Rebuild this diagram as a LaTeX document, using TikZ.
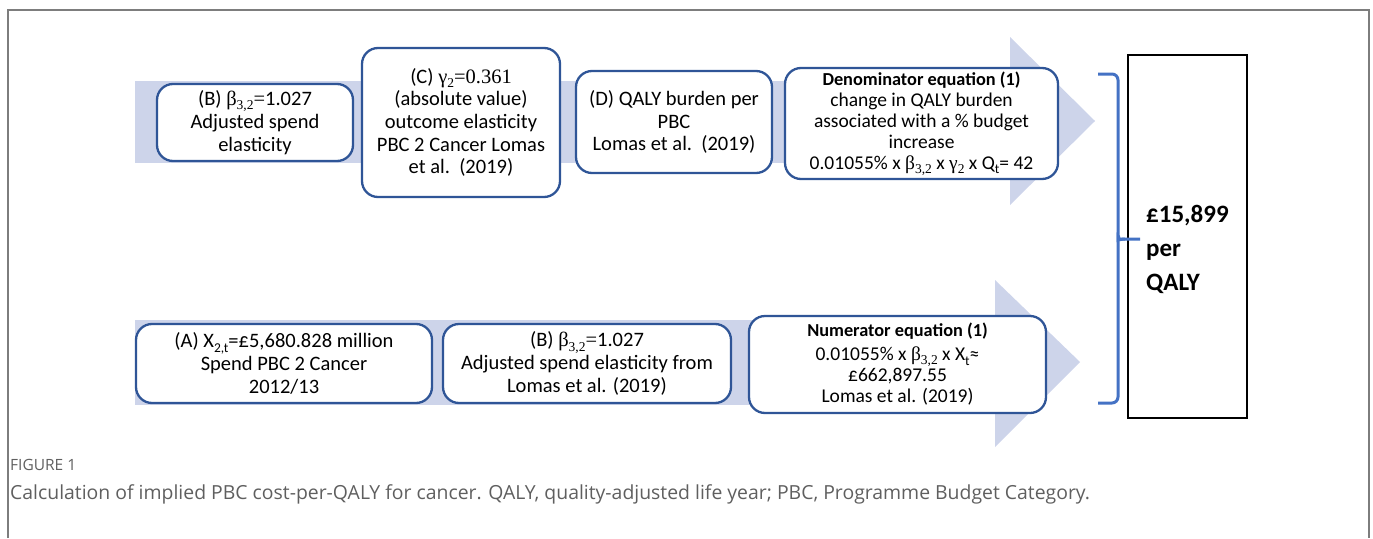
\documentclass[tikz,border=0pt]{standalone}
\usepackage{fontspec}
\setmainfont{Carlito}
\newfontfamily\grkfont{Liberation Serif}
\newfontfamily\capfont{Open Sans}

\definecolor{bandblue}{RGB}{205,212,234}
\definecolor{boxblue}{RGB}{47,85,151}
\definecolor{braceblue}{RGB}{68,114,196}
\definecolor{framegray}{RGB}{125,125,125}
\definecolor{capgray}{RGB}{95,95,95}

\newcommand{\lowr}[1]{\raisebox{-0.45ex}{\fontsize{13.5}{13.5}\selectfont #1}}

\tikzset{
    stepbox/.style={draw=boxblue, line width=2.3pt, fill=white, rounded corners=16pt,
        align=center, inner sep=0pt, font=\fontsize{20.5}{22.7}\selectfont},
    eqbox/.style={stepbox, font=\fontsize{19.5}{21}\selectfont},
    band/.style={fill=bandblue, draw=none}
}

\begin{document}
\begin{tikzpicture}[x=1pt, y=-1pt]
        \useasboundingbox (0,0) rectangle (1373,538);
        % Frame
        \draw[framegray, line width=1.2pt] (8,538) -- (8,10) -- (1369,10) -- (1369,538);

        % Upper arrow
        \fill[band] (135,81) rectangle (1010,163);
        \fill[band] (1010,37) -- (1095,121) -- (1010,205) -- cycle;
        % Lower arrow
        \fill[band] (135,320) rectangle (995,405);
        \fill[band] (995,280) -- (1080,362) -- (995,447) -- cycle;

        % Denominator row
        \node[stepbox, minimum width=196, minimum height=77] (spendB) at (255,122.5)
            {(B) {\grkfont β\lowr{3,2}=}1.027\\Adjusted spend\\elasticity};
        \node[stepbox, minimum width=198, minimum height=149] (gammaC) at (461,122.5)
            {(C) {\grkfont γ\lowr{2}=0.361}\\(absolute value)\\outcome elasticity\\PBC 2 Cancer Lomas\\et al.~~(2019)};
        \node[stepbox, minimum width=196, minimum height=102] (qalyD) at (674,122)
            {(D) QALY burden per\\PBC\\Lomas et al.~~(2019)};
        \node[eqbox, minimum width=273, minimum height=111] (denom) at (921.5,123.5)
            {{\fontsize{18.3}{20}\selectfont\bfseries Denominator equation (1)}\\change in QALY burden\\associated with a \% budget\\increase\\0.01055\% x {\grkfont β\lowr{3,2}} x {\grkfont γ\lowr{2}} x Q\lowr{t}= 42};

        % Numerator row
        \node[stepbox, minimum width=296, minimum height=79] (spendA) at (284,363.5)
            {(A) X\lowr{2,t}=£5,680.828 million\\Spend PBC 2 Cancer\\2012/13};
        \node[stepbox, minimum width=288, minimum height=79] (spendB2) at (587,363.5)
            {(B) {\grkfont β\lowr{3,2}=}1.027\\Adjusted spend elasticity from\\Lomas et al. (2019)};
        \node[eqbox, minimum width=297, minimum height=97] (numer) at (897.5,364.5)
            {{\fontsize{18.3}{20}\selectfont\bfseries Numerator equation (1)}\\[3pt]0.01055\% x {\grkfont β\lowr{3,2}} x X\lowr{t}≈\\£662,897.55\\Lomas et al. (2019)};

        % Result
        \node[draw, line width=1.6pt, minimum width=119, minimum height=363] (result) at (1187.5,236.5) {};
        \node[anchor=west, align=left, inner sep=0pt, font=\fontsize{25}{34}\selectfont\bfseries] (resval) at (1146,249)
            {£15,899\\per\\QALY};

        % Brace
        \coordinate (brtop) at (1098,74);
        \coordinate (brbot) at (1098,403);
        \coordinate (brtip) at (1140,239);
        \draw[braceblue, line width=3pt, rounded corners=6pt] (brtop) -- (1118,74) -- (1118,233)
            .. controls (1118,237) and (1120,239) .. (1125,239) -- (brtip);
        \draw[braceblue, line width=3pt, rounded corners=6pt] (brbot) -- (1118,403) -- (1118,245)
            .. controls (1118,241) and (1120,239) .. (1125,239);

        % Caption
        \node[anchor=west, inner sep=0pt, text=capgray, font=\capfont\fontsize{15.5}{18}\selectfont] (figno) at (10,465) {FIGURE 1};
        \node[anchor=west, inner sep=0pt, text=capgray, font=\capfont\fontsize{19.4}{22}\selectfont] (caption) at (10,494)
            {Calculation of implied PBC cost-per-QALY for cancer. QALY, quality-adjusted life year; PBC, Programme Budget Category.};
\end{tikzpicture}
\end{document}
